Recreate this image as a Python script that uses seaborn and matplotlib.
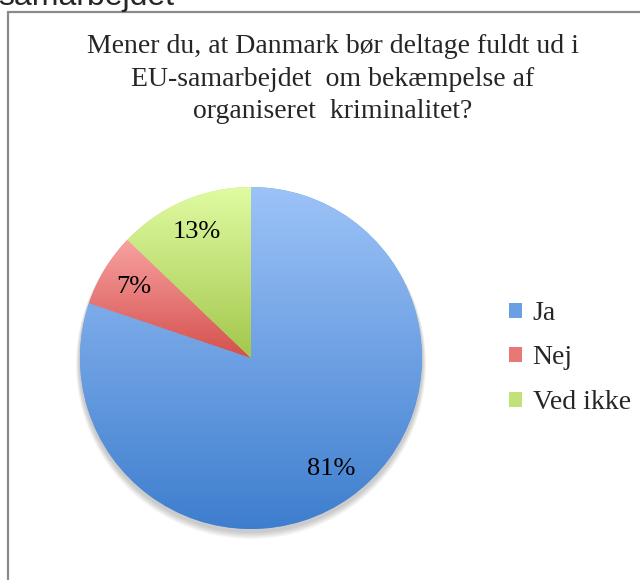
import numpy as np
import matplotlib
matplotlib.use("Agg")
import matplotlib.pyplot as plt
import seaborn as sns
from matplotlib.colors import LinearSegmentedColormap
from matplotlib.patches import Patch, Rectangle, Circle

# data
categories = ["Ja", "Nej", "Ved ikke"]
values = [81, 7, 13]
pct_labels = ["81%", "7%", "13%"]
title = "Mener du, at Danmark bør deltage fuldt ud i\nEU-samarbejdet  om bekæmpelse af\norganiseret  kriminalitet?"

# gradient colours per slice (top -> bottom)
grad_colors = [("#9DC3F8", "#3E7ECE"), ("#F8A2A2", "#D4504C"), ("#E0FBA2", "#A3C74C")]
mid_colors = ["#6A9FE3", "#E77876", "#C2E178"]

sns.set_theme(style="white")
plt.rcParams['font.family'] = ['Liberation Serif', 'DejaVu Serif']

W, H = 640, 580
fig = plt.figure(figsize=(W / 100, H / 100), dpi=100)
ax = fig.add_axes([0, 0, 1, 1])

cx, cy, r = 251, H - 358, 171

# soft shadow below the pie
for k in range(6):
    ax.add_patch(Circle((cx, cy - 3 - k * 0.6), r + 1 + k * 0.6, color="black",
                        alpha=0.035, lw=0, zorder=0))

it = iter(pct_labels)
wedges, texts, autotexts = ax.pie(
    values, center=(cx, cy), radius=r, startangle=90, counterclock=False,
    colors=mid_colors, autopct=lambda p: next(it), pctdistance=0.8,
    textprops={"fontsize": 19, "color": "black"}, frame=True,
    wedgeprops={"linewidth": 0})
ax.set_xlim(0, W)
ax.set_ylim(0, H)
ax.axis("off")

# vertical gradient fill clipped to each slice
for w, (top, bot) in zip(wedges, grad_colors):
    ext = w.get_path().get_extents()
    cmap = LinearSegmentedColormap.from_list("g", [bot, top])
    grad = np.linspace(0, 1, 256).reshape(-1, 1)
    im = ax.imshow(grad, cmap=cmap, origin="lower", aspect="auto",
                   extent=[ext.x0, ext.x1, ext.y0, ext.y1], zorder=1.5)
    im.set_clip_path(w)
for t in autotexts:
    t.set_zorder(3)

# title
fig.text(333 / W, 1 - 79 / H, title, ha="center", va="center", fontsize=20,
         linespacing=1.42)

# legend
handles = [Patch(facecolor=c, edgecolor="none") for c in mid_colors]
fig.legend(handles, categories, loc="center left", bbox_to_anchor=(509 / W, 1 - 358 / H),
           frameon=False, fontsize=20, handlelength=0.45, handleheight=0.45,
           handletextpad=0.4, labelspacing=0.7, borderpad=0, borderaxespad=0)

# chart frame (cut off by the screenshot)
fig.patches.append(Rectangle((8 / W, -0.1), 1.2, 1.1 - 12 / H, transform=fig.transFigure,
                             fill=False, edgecolor="#8A8A8A", linewidth=1.6))
# cut-off heading above the chart
fig.text(-2 / W, 1 - 5 / H, "samarbejdet", ha="left", va="baseline", fontsize=23,
         family=["Liberation Sans", "DejaVu Sans"])

fig.savefig("out.png", dpi=100)
